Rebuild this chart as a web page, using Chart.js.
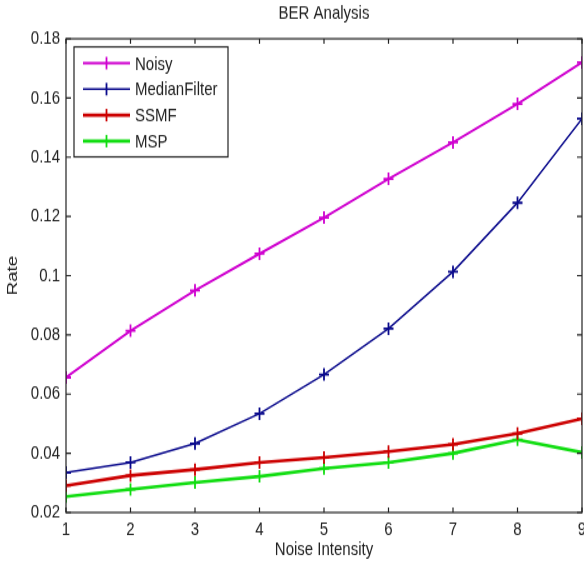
<!DOCTYPE html>
<html>
<head>
<meta charset="utf-8">
<title>BER Analysis</title>
<script src="https://cdn.jsdelivr.net/npm/chart.js@4.4.1/dist/chart.umd.min.js"></script>
<style>
    html, body { margin: 0; padding: 0; background: #fff; overflow: hidden; }
    /* la figure d'origine est un peu étirée en hauteur */
    #berChart { display: block; width: 600px !important; height: 565px !important; }
</style>
</head>
<body>
<canvas id="berChart" width="600" height="452"></canvas>
<script>
// Données
const intensity = [1, 2, 3, 4, 5, 6, 7, 8, 9];
const noisy = [0.0656, 0.0814, 0.0950, 0.1074, 0.1196, 0.1327, 0.1450, 0.1580, 0.1720];
const medianFilter = [0.0335, 0.0369, 0.0433, 0.0534, 0.0666, 0.0821, 0.1013, 0.1246, 0.1530];
const ssmf = [0.0291, 0.0325, 0.0345, 0.0369, 0.0386, 0.0406, 0.0430, 0.0467, 0.0517];
const msp = [0.0254, 0.0278, 0.0301, 0.0322, 0.0349, 0.0369, 0.0400, 0.0446, 0.0403];
const yTicks = [0.02, 0.04, 0.06, 0.08, 0.1, 0.12, 0.14, 0.16, 0.18];

const FONT = '"Liberation Sans", Arial, Helvetica, sans-serif';
Chart.defaults.font.family = FONT;
Chart.defaults.color = '#222';

function serie(label, values, color, width) {
    return {
        label: label,
        data: intensity.map((x, i) => ({ x: x, y: values[i] })),
        borderColor: color,
        backgroundColor: color,
        borderWidth: width,
        pointStyle: 'cross',
        pointRadius: 5,
        pointBorderWidth: 1.8,
        pointBorderColor: color,
        tension: 0,
        fill: false
    };
}

// Cadre, graduations internes et légende façon MATLAB
const matlabBox = {
    id: 'matlabBox',
    afterDatasetsDraw(chart) {
        const ctx = chart.ctx;
        const a = chart.chartArea;
        const xs = chart.scales.x;
        const ys = chart.scales.y;
        ctx.save();
        ctx.strokeStyle = '#222';
        ctx.lineWidth = 1.2;
        ctx.strokeRect(a.left, a.top, a.right - a.left, a.bottom - a.top);
        ctx.beginPath();
        xs.ticks.forEach(t => {
            const px = xs.getPixelForValue(t.value);
            ctx.moveTo(px, a.bottom); ctx.lineTo(px, a.bottom - 4);
            ctx.moveTo(px, a.top); ctx.lineTo(px, a.top + 4);
        });
        ys.ticks.forEach(t => {
            const py = ys.getPixelForValue(t.value);
            ctx.moveTo(a.left, py); ctx.lineTo(a.left + 5, py);
            ctx.moveTo(a.right, py); ctx.lineTo(a.right - 5, py);
        });
        ctx.stroke();

        // légende
        const lx = a.left + 8, ly = a.top + 6.5;
        const lw = 154, lh = 88;
        ctx.fillStyle = '#fff';
        ctx.fillRect(lx, ly, lw, lh);
        ctx.strokeRect(lx, ly, lw, lh);
        ctx.font = '15px ' + FONT;
        ctx.textBaseline = 'middle';
        chart.data.datasets.forEach((ds, i) => {
            const y = ly + 13 + i * 20.8;
            ctx.strokeStyle = ds.borderColor;
            ctx.lineWidth = ds.borderWidth;
            ctx.beginPath();
            ctx.moveTo(lx + 9, y); ctx.lineTo(lx + 56, y);
            ctx.stroke();
            ctx.lineWidth = 1.8;
            ctx.beginPath();
            ctx.moveTo(lx + 32.5, y - 5); ctx.lineTo(lx + 32.5, y + 5);
            ctx.stroke();
            ctx.fillStyle = '#222';
            ctx.fillText(ds.label, lx + 61, y + 1);
        });
        ctx.restore();
    }
};

const ctx = document.getElementById('berChart').getContext('2d');
new Chart(ctx, {
    type: 'line',
    data: {
        datasets: [
            serie('Noisy', noisy, '#cf00cf', 2),
            serie('MedianFilter', medianFilter, '#0a0a8c', 1.6),
            serie('SSMF', ssmf, '#cc0000', 2.6),
            serie('MSP', msp, '#10dd10', 2.6)
        ]
    },
    options: {
        responsive: false,
        devicePixelRatio: 1,
        animation: false,
        layout: { padding: { left: 0, right: 18, top: 0, bottom: 0 } },
        plugins: {
            legend: { display: false },
            tooltip: { enabled: false },
            title: {
                display: true,
                fullSize: false,
                text: 'BER Analysis',
                font: { size: 15, weight: 'normal' },
                color: '#222',
                padding: { top: 2, bottom: 11 }
            }
        },
        scales: {
            x: {
                type: 'linear',
                min: 1,
                max: 9,
                grid: { display: false, drawTicks: false },
                border: { display: false },
                ticks: { stepSize: 1, font: { size: 15 }, padding: 5, maxRotation: 0 },
                title: { display: true, text: 'Noise Intensity', font: { size: 15 }, padding: { top: 0, bottom: 3 } },
                afterFit(scale) { scale.height = 42; }
            },
            y: {
                min: 0.02,
                max: 0.18,
                grid: { display: false, drawTicks: false },
                border: { display: false },
                afterBuildTicks(scale) { scale.ticks = yTicks.map(v => ({ value: v })); },
                ticks: {
                    font: { size: 15 },
                    padding: 6,
                    callback: v => String(Number(v.toFixed(2)))
                },
                title: { display: true, text: 'Rate', font: { size: 15 }, padding: { top: 4, bottom: 0 } },
                afterFit(scale) { scale.width = 66; }
            }
        }
    },
    plugins: [matlabBox]
});
</script>
</body>
</html>
